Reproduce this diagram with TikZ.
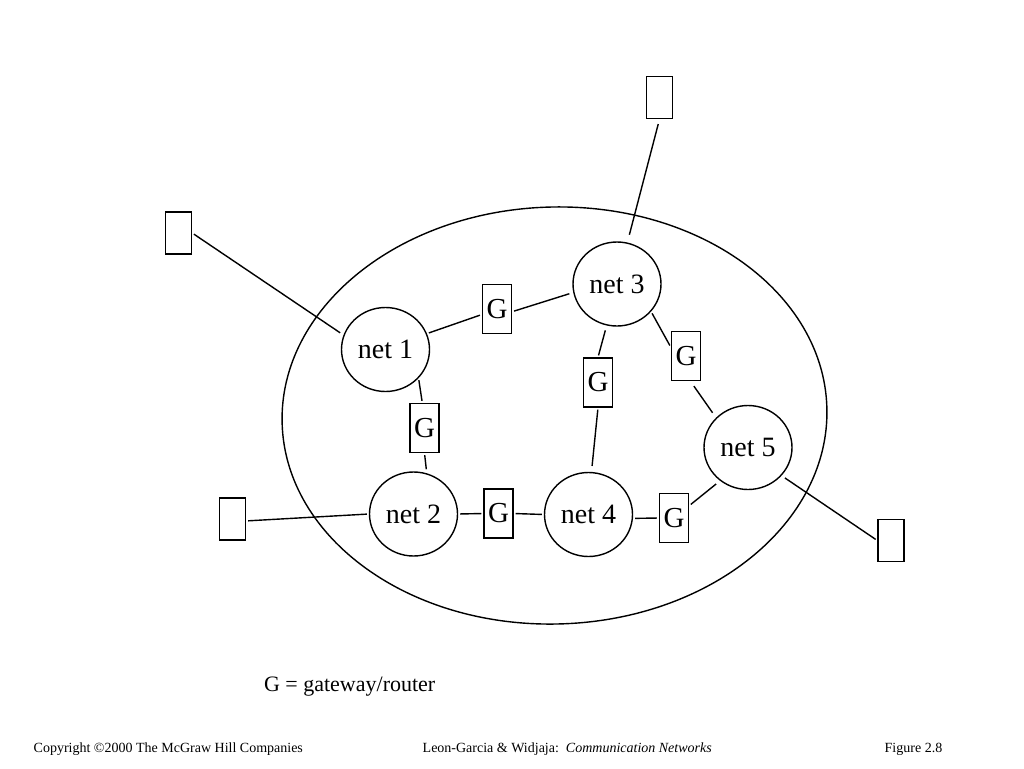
\documentclass[tikz,border=0pt]{standalone}
\usepackage{fontspec}
\setmainfont{Liberation Serif}
\usetikzlibrary{shapes.geometric}

\begin{document}
\begin{tikzpicture}[x=1pt,y=-1pt,line width=1.4pt,
        net/.style={draw,ellipse,minimum width=88pt,minimum height=84pt,inner sep=0pt,font=\fontsize{28}{32}\selectfont},
        gw/.style={draw,rectangle,minimum width=29pt,minimum height=49pt,inner sep=0pt,font=\fontsize{29}{32}\selectfont},
        host/.style={draw,rectangle,minimum width=26pt,minimum height=42pt,inner sep=0pt},
        link/.style={draw,shorten <=2pt,shorten >=2pt}]
        \useasboundingbox(0,0)rectangle(1024,768);

        \draw[rotate around={1.7:(554.5,415.5)}](554.5,415.5)ellipse[x radius=272.5pt,y radius=208.5pt];

        \node[net](net1)at(385.5,349.5){net 1\hspace{8pt}};
        \node[net](net2)at(413.5,514){net 2\hspace{3pt}};
        \node[net](net3)at(617,284){net 3\hspace{8pt}};
        \node[net](net4)at(588.5,514.5){net 4\hspace{3pt}};
        \node[net](net5)at(748,447.5){net 5};

        \node[gw](g13)at(497,309){G};
        \node[gw](g12)at(424.5,428){G};
        \node[gw](g34)at(598,382.5){G};
        \node[gw](g35)at(686,356){G};
        \node[gw](g24)at(498.5,513.5){G};
        \node[gw](g45)at(674,518){G};

        \node[host](h1)at(178.5,233){};
        \node[host](h2)at(232.5,519){};
        \node[host](h3)at(659.5,97.5){};
        \node[host](h4)at(891,540.5){};

        \draw[link,shorten >=4pt](h1.east)--(net1.161);
        \draw[link](h2.-8)--(net2.180);
        \draw[link,shorten <=5pt,shorten >=8pt](h3.south)--(net3.76);
        \draw[link,shorten <=4pt](net5.-40)--(h4.west);

        \draw[link](net1.21)--(g13.200);
        \draw[link,shorten >=4pt](g13.-10)--(net3.191);
        \draw[link](net1.-41)--(g12.95);
        \draw[link,shorten >=4pt](g12.south)--(net2.72);
        \draw[link](net2.east)--(g24.west);
        \draw[link](g24.east)--(net4.west);
        \draw[link,shorten <=5pt](net3.-104)--(g34.north);
        \draw[link,shorten >=6pt](g34.south)--(net4.86);
        \draw[link](net3.-39)--(g35.150);
        \draw[link,shorten <=6pt,shorten >=6pt](g35.-80)--(net5.137);
        \draw[link](net4.-5)--(g45.west);
        \draw[link,shorten >=5pt](g45.39)--(net5.-130);

        \node[anchor=base west,font=\fontsize{22}{26}\selectfont](legend)at(260,691){G = gateway/router};
        \node[anchor=base west,inner sep=0pt,font=\fontsize{14}{16}\selectfont](copyright)at(33,752){Copyright \textcopyright2000 The McGraw Hill Companies};
        \node[anchor=base west,inner sep=0pt,font=\fontsize{14}{16}\selectfont](credit)at(422,752){Leon-Garcia \& Widjaja:\ \ \textit{Communication Networks}};
        \node[anchor=base west,inner sep=0pt,font=\fontsize{14}{16}\selectfont](fignum)at(884,752){Figure 2.8};
    \end{tikzpicture}
\end{document}
